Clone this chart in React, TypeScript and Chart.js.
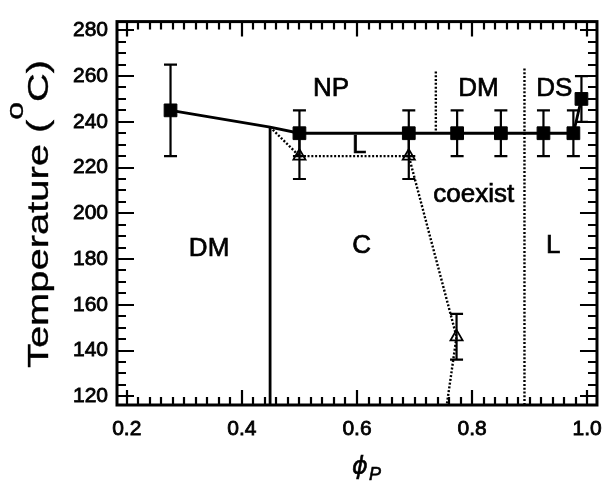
import React, { useEffect, useRef } from "react";
import { Chart, registerables } from "chart.js";

Chart.register(...registerables);

// ---- data ----
const squareX = [0.276, 0.5, 0.69, 0.774, 0.85, 0.924, 0.976, 0.99];
const squareY = [245, 235, 235, 235, 235, 235, 235, 250];
const squareErr = [20, 10, 10, 10, 10, 10, 10, 10];

const triangleX = [0.5, 0.69, 0.773];
const triangleY = [225, 225, 146];
const triangleErr = [10, 10, 10];

const boundaryX = [0.276, 0.449, 0.5, 0.69, 0.774, 0.85, 0.924, 0.976, 0.99];
const boundaryY = [245, 237.7, 235, 235, 235, 235, 235, 235, 250];

const verticalX = [0.449, 0.449];
const verticalY = [237.7, 116.2];

const coexistX = [0.449, 0.5, 0.69, 0.773, 0.756];
const coexistY = [237.7, 225, 225, 146, 116.2];

const dottedAX = [0.737, 0.737];
const dottedAY = [262, 235];

const dottedBX = [0.891, 0.891];
const dottedBY = [263.3, 116.2];

const regionLabels = ["NP", "DM", "DS", "L", "coexist", "C", "L", "DM"];
const regionX = [0.555, 0.811, 0.943, 0.604, 0.803, 0.608, 0.941, 0.343];
const regionY = [251.4, 251.4, 251.4, 226.4, 204.9, 182.6, 182.6, 181.4];

const xTickValues = [0.2, 0.4, 0.6, 0.8, 1.0];
const yTickValues = [120, 140, 160, 180, 200, 220, 240, 260, 280];
const xRange = [0.183, 1.017];
const yRange = [116.2, 283.8];

const FONT = '"Liberation Sans", Arial, Helvetica, sans-serif';

const pts = (xs: number[], ys: number[]) => xs.map((x, i) => ({ x, y: ys[i] }));

const errorBarPlugin = {
  id: "errorBars",
  beforeDatasetsDraw(chart: any) {
    const { ctx } = chart;
    const xs = chart.scales.x;
    const ys = chart.scales.y;
    ctx.save();
    ctx.strokeStyle = "#000";
    ctx.lineWidth = 2.2;
    const draw = (X: number[], Y: number[], E: number[]) => {
      X.forEach((v, i) => {
        const px = xs.getPixelForValue(v);
        const t = ys.getPixelForValue(Y[i] + E[i]);
        const b = ys.getPixelForValue(Y[i] - E[i]);
        ctx.beginPath();
        ctx.moveTo(px, t);
        ctx.lineTo(px, b);
        ctx.moveTo(px - 6.5, t);
        ctx.lineTo(px + 6.5, t);
        ctx.moveTo(px - 6.5, b);
        ctx.lineTo(px + 6.5, b);
        ctx.stroke();
      });
    };
    draw(squareX, squareY, squareErr);
    draw(triangleX, triangleY, triangleErr);
    ctx.restore();
  },
};

const labelPlugin = {
  id: "regionLabels",
  afterDatasetsDraw(chart: any) {
    const { ctx } = chart;
    const xs = chart.scales.x;
    const ys = chart.scales.y;
    ctx.save();
    ctx.fillStyle = "#000";
    ctx.strokeStyle = "#000";
    ctx.lineWidth = 0.7;
    ctx.font = `26px ${FONT}`;
    ctx.textAlign = "center";
    ctx.textBaseline = "alphabetic";
    regionLabels.forEach((t, i) => {
      const px = xs.getPixelForValue(regionX[i]);
      const py = ys.getPixelForValue(regionY[i]);
      ctx.fillText(t, px, py);
      ctx.strokeText(t, px, py);
    });
    ctx.restore();
  },
};

const frameTicksPlugin = {
  id: "frameTicks",
  afterDraw(chart: any) {
    const { ctx, chartArea } = chart;
    const { left, right, top, bottom } = chartArea;
    const xs = chart.scales.x;
    const ys = chart.scales.y;
    ctx.save();
    ctx.strokeStyle = "#000";
    ctx.lineWidth = 2.2;
    ctx.beginPath();
    for (let i = 10; i <= 50; i++) {
      const px = Math.round(xs.getPixelForValue(i / 50));
      const len = i % 10 === 0 ? 15 : 8;
      ctx.moveTo(px, bottom);
      ctx.lineTo(px, bottom - len);
      ctx.moveTo(px, top);
      ctx.lineTo(px, top + len);
    }
    for (let v = 120; v <= 280; v += 5) {
      const py = Math.round(ys.getPixelForValue(v));
      const len = v % 20 === 0 ? 17 : 9;
      ctx.moveTo(left, py);
      ctx.lineTo(left + len, py);
      ctx.moveTo(right, py);
      ctx.lineTo(right - len, py);
    }
    ctx.stroke();
    ctx.lineWidth = 3;
    ctx.strokeRect(left, top, right - left, bottom - top);

    // y title (rotated) with superscript o
    const main1 = "Temperature (";
    const sup = "o";
    const main2 = "C)";
    ctx.fillStyle = "#000";
    ctx.lineWidth = 0.35;
    ctx.textBaseline = "alphabetic";
    ctx.textAlign = "left";
    ctx.font = `30px ${FONT}`;
    const w1 = ctx.measureText(main1).width;
    const w3 = ctx.measureText(main2).width;
    ctx.font = `24px ${FONT}`;
    const w2 = ctx.measureText(sup).width;
    const total = w1 + w2 + w3;
    const target = 308;
    const s = target / total;
    ctx.save();
    ctx.translate(48, 214);
    ctx.rotate(-Math.PI / 2);
    ctx.scale(s, 1);
    let u = -total / 2;
    ctx.font = `30px ${FONT}`;
    ctx.fillText(main1, u, 0);
    ctx.strokeText(main1, u, 0);
    u += w1;
    ctx.font = `24px ${FONT}`;
    ctx.fillText(sup, u, -25);
    ctx.strokeText(sup, u, -25);
    u += w2;
    ctx.font = `30px ${FONT}`;
    ctx.fillText(main2, u, 0);
    ctx.strokeText(main2, u, 0);
    ctx.restore();

    // x title phi_P
    ctx.lineWidth = 0.6;
    ctx.font = `italic 24px "DejaVu Sans", ${FONT}`;
    ctx.textAlign = "center";
    ctx.fillText("\u03D5", 360, 474);
    ctx.strokeText("\u03D5", 360, 474);
    ctx.font = `italic 18px ${FONT}`;
    ctx.textAlign = "left";
    ctx.fillText("P", 369, 480);
    ctx.strokeText("P", 369, 480);
    ctx.restore();
  },
};

export default function App() {
  const ref = useRef<HTMLCanvasElement | null>(null);
  useEffect(() => {
    if (!ref.current) return;
    const solid = { showLine: true, pointRadius: 0, borderColor: "#000", borderWidth: 2.8, tension: 0, fill: false };
    const dotted = { ...solid, borderWidth: 2.4, borderDash: [2, 1.8] };
    const chart = new Chart(ref.current, {
      type: "scatter",
      data: {
        datasets: [
          {
            data: pts(squareX, squareY),
            pointStyle: "rect",
            pointRadius: 9,
            backgroundColor: "#000",
            borderColor: "#000",
            borderWidth: 1,
            showLine: false,
          },
          {
            data: pts(triangleX, triangleY),
            pointStyle: "triangle",
            pointRadius: 7,
            backgroundColor: "rgba(0,0,0,0)",
            borderColor: "#000",
            borderWidth: 1.8,
            showLine: false,
          },
          { data: pts(boundaryX, boundaryY), ...solid },
          { data: pts(verticalX, verticalY), ...solid },
          { data: pts(coexistX, coexistY), ...dotted },
          { data: pts(dottedAX, dottedAY), ...dotted },
          { data: pts(dottedBX, dottedBY), ...dotted },
        ] as any,
      },
      options: {
        responsive: false,
        animation: false,
        layout: { padding: { left: 0, right: 2, top: 14, bottom: 0 } },
        plugins: { legend: { display: false }, tooltip: { enabled: false } },
        scales: {
          x: {
            type: "linear",
            min: xRange[0],
            max: xRange[1],
            grid: { display: false, drawTicks: false },
            border: { display: false },
            ticks: {
              color: "#000",
              font: { family: FONT, size: 21 },
              textStrokeColor: "#000",
              textStrokeWidth: 0.8,
              padding: 12,
              maxRotation: 0,
              autoSkip: false,
              callback: (v: any) => Number(v).toFixed(1),
            },
            afterBuildTicks: (s: any) => {
              s.ticks = xTickValues.map((v) => ({ value: v }));
            },
            afterFit: (s: any) => {
              s.height = 76;
            },
          },
          y: {
            type: "linear",
            min: yRange[0],
            max: yRange[1],
            grid: { display: false, drawTicks: false },
            border: { display: false },
            ticks: {
              color: "#000",
              font: { family: FONT, size: 21 },
              textStrokeColor: "#000",
              textStrokeWidth: 0.8,
              padding: 9,
              autoSkip: false,
              callback: (v: any) => String(v),
            },
            afterBuildTicks: (s: any) => {
              s.ticks = yTickValues.map((v) => ({ value: v }));
            },
            afterFit: (s: any) => {
              s.width = 117;
            },
          },
        },
      } as any,
      plugins: [errorBarPlugin, labelPlugin, frameTicksPlugin],
    });
    return () => chart.destroy();
  }, []);
  return (
    <div style={{ position: "fixed", left: 0, top: 0, width: 614, height: 481, background: "#fff" }}>
      <canvas ref={ref} width={614} height={481} style={{ display: "block" }} />
    </div>
  );
}
